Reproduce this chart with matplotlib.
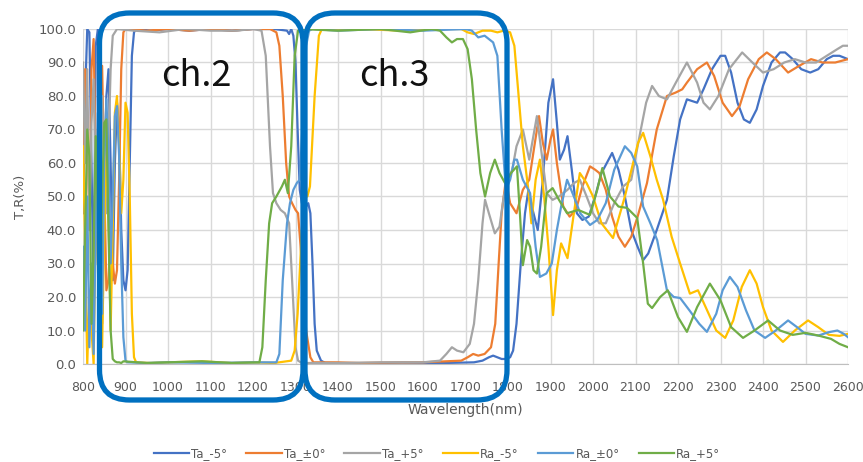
import matplotlib
matplotlib.use('Agg')
import matplotlib.pyplot as plt
from matplotlib.patches import FancyBboxPatch

# ---- data (wavelength nm, value %) ----
ta_m5_nm = [800, 805, 810, 815, 820, 825, 830, 835, 840, 845, 850, 855, 860, 865, 870, 875, 880, 885, 890, 895, 900, 905, 910, 915, 920, 925,
            960, 1000, 1050, 1100, 1150, 1200, 1250, 1280, 1285, 1290, 1295, 1300, 1305, 1310, 1315, 1320, 1325, 1330, 1335, 1340, 1345, 1350, 1360, 1370,
            1450, 1550, 1650, 1720, 1740, 1755, 1765, 1775, 1785, 1795, 1805, 1812, 1820, 1830, 1840, 1848, 1858, 1870, 1882, 1895,
            1906, 1915, 1922, 1932, 1940, 1950, 1962, 1975, 1990, 2005, 2020, 2045, 2060, 2075, 2090, 2105, 2118, 2130, 2150, 2174,
            2190, 2205, 2221, 2245, 2260, 2280, 2300, 2311, 2325, 2340, 2355, 2369, 2385, 2400, 2420, 2440, 2452, 2470, 2490, 2511,
            2530, 2550, 2565, 2580, 2600]
ta_m5 = [45, 80, 100, 99, 60, 20, 95, 100, 55, 12, 50, 80, 88, 60, 25, 60, 78, 70, 40, 25, 22, 28, 60, 92, 99, 100,
         99.5, 100, 99.5, 100, 99.5, 100, 100, 99.5, 98.5, 100, 98, 90, 70, 52, 48, 50, 47, 48, 45, 30, 12, 4, 1, 0.3,
         0.2, 0.4, 0.3, 0.5, 1, 2, 2.5, 2, 1.5, 1.5, 2, 4, 12, 30, 45, 52, 46, 40, 55, 78,
         85, 72, 61, 64, 68, 58, 45, 43, 44, 50, 57, 63, 58, 50, 40, 35, 31, 33, 40, 49,
         62, 73, 79, 78, 82, 88, 92, 92, 87, 78, 73, 72, 76, 83, 90, 93, 93, 91, 88, 87,
         88, 91, 92, 92, 91]

ta_0_nm = [800, 805, 810, 815, 820, 825, 830, 835, 840, 845, 850, 855, 860, 865, 870, 875, 880, 885, 890, 895, 900,
           950, 1000, 1050, 1100, 1150, 1200, 1240, 1255, 1262, 1270, 1278, 1285, 1292, 1300, 1306, 1315, 1325, 1335, 1342,
           1400, 1450, 1500, 1600, 1690, 1705, 1718, 1730, 1745, 1760, 1770, 1778, 1785, 1795, 1805, 1820, 1835, 1850, 1862, 1873,
           1882, 1891, 1900, 1906, 1915, 1930, 1945, 1960, 1975, 1993, 2005, 2015, 2030, 2045, 2060, 2075, 2090, 2105, 2127, 2150,
           2174, 2194, 2210, 2221, 2245, 2268, 2285, 2305, 2327, 2345, 2365, 2390, 2409, 2430, 2459, 2485, 2513, 2540, 2570, 2600]
ta_0 = [50, 88, 75, 40, 88, 97, 60, 30, 70, 89, 55, 22, 25, 40, 30, 24, 28, 55, 88, 99, 100,
        99.5, 100, 99.5, 100, 99.5, 100, 100, 99, 95, 80, 60, 50, 48, 46, 45, 30, 10, 2, 0.5,
        0.5, 0.3, 0.4, 0.5, 1, 2, 3, 2.5, 3, 5, 12, 30, 45, 55, 48, 45, 52, 55, 65, 74,
        66, 61, 67, 70, 60, 47, 44, 46, 53, 59, 58, 57, 52, 44, 38, 35, 38, 44, 54, 70,
        80, 81, 82, 84, 88, 90, 86, 78, 74, 77, 85, 91, 93, 91, 87, 89, 91, 90, 90, 91]

ta_p5_nm = [800, 805, 810, 815, 820, 825, 830, 835, 840, 845, 850, 855, 860, 865, 870, 875, 880,
            920, 980, 1040, 1100, 1160, 1200, 1220, 1230, 1240, 1247, 1255, 1265, 1275, 1285, 1292, 1300, 1306, 1315,
            1400, 1500, 1600, 1640, 1655, 1668, 1680, 1695, 1710, 1720, 1730, 1740, 1746, 1755, 1769, 1780, 1790, 1800, 1810, 1820,
            1835, 1850, 1868, 1880, 1891, 1905, 1920, 1940, 1955, 1969, 1985, 2000, 2015, 2030, 2050, 2071, 2090, 2111, 2125, 2139,
            2155, 2174, 2195, 2221, 2245, 2260, 2275, 2295, 2320, 2351, 2375, 2400, 2425, 2450, 2475, 2500, 2525, 2550, 2575, 2588, 2600]
ta_p5 = [90, 60, 88, 40, 72, 85, 55, 30, 65, 80, 55, 45, 65, 88, 98, 99, 100,
         99.5, 99, 100, 99.5, 99.5, 100, 99.5, 92, 65, 51, 48, 46, 45, 42, 25, 5, 1, 0.3,
         0.3, 0.5, 0.5, 1, 3, 5, 4, 3.5, 6, 12, 25, 42, 49, 45, 39, 41, 50, 55, 58, 65,
         70, 61, 74, 62, 51, 49, 50, 52, 54, 55, 50, 45, 42, 42, 48, 53, 55, 69, 78, 83,
         80, 79, 84, 90, 84, 78, 76, 80, 88, 93, 90, 87, 88, 90, 91, 90, 90, 92, 94, 95, 95]

ra_m5_nm = [800, 805, 810, 815, 820, 825, 830, 835, 840, 845, 850, 855, 860, 865, 870, 875, 880, 885, 890, 895, 900, 905, 910, 915, 920, 925,
            960, 1000, 1080, 1150, 1200, 1250, 1290, 1298, 1305, 1315, 1322, 1328, 1334, 1345, 1355, 1362,
            1450, 1550, 1650, 1690, 1705, 1720, 1740, 1760, 1775, 1790, 1805, 1815, 1825, 1835, 1847, 1855, 1865, 1875, 1885, 1895,
            1906, 1915, 1925, 1940, 1955, 1969, 1985, 2000, 2020, 2047, 2075, 2106, 2118, 2135, 2150, 2165, 2185, 2205, 2228, 2247,
            2265, 2290, 2311, 2330, 2350, 2369, 2385, 2400, 2420, 2447, 2475, 2506, 2530, 2555, 2580, 2600]
ra_m5 = [65, 35, 0, 20, 10, 0, 45, 70, 25, 5, 40, 65, 45, 10, 40, 75, 80, 65, 45, 55, 78, 75, 50, 15, 2, 0.5,
         0.3, 0.5, 0.8, 0.3, 0.5, 0.3, 1, 4, 15, 40, 53, 50, 53, 80, 98, 100,
         100, 99.5, 100, 100, 99, 98.5, 99.5, 99.5, 99, 99.5, 99, 95, 80, 65, 53, 42, 55, 61, 50, 35,
         14.6, 28, 36, 31.6, 45, 57, 54, 50, 42, 37.6, 50, 66, 69, 62, 55, 49, 38, 30, 21, 22,
         17, 10, 7.8, 13, 23, 28, 24, 17, 10, 6.6, 10, 13, 11, 8.7, 8.4, 9]

ra_0_nm = [800, 805, 810, 815, 820, 825, 830, 835, 840, 845, 850, 855, 860, 865, 870, 875, 880, 885, 890, 895, 900, 905,
           950, 1000, 1100, 1200, 1255, 1262, 1270, 1280, 1287, 1295, 1303, 1310, 1318, 1325, 1332, 1340,
           1400, 1500, 1600, 1700, 1715, 1730, 1745, 1755, 1765, 1775, 1785, 1795, 1805, 1815, 1821, 1835, 1852, 1865, 1875, 1890,
           1903, 1915, 1925, 1939, 1955, 1970, 1993, 2010, 2030, 2050, 2075, 2090, 2104, 2118, 2135, 2151, 2174, 2190, 2205, 2227,
           2250, 2268, 2290, 2305, 2322, 2340, 2360, 2380, 2405, 2430, 2459, 2480, 2500, 2530, 2555, 2575, 2590, 2600]
ra_0 = [35, 10, 50, 5, 30, 3, 40, 75, 40, 15, 60, 79, 62, 30, 50, 74, 77, 62, 30, 8, 1, 0.5,
        0.3, 0.5, 0.3, 0.5, 0.5, 3, 25, 42, 48, 52, 54, 55, 75, 95, 99.5, 100,
        99.5, 100, 99.5, 100, 99.5, 97.5, 98, 97, 96, 92, 70, 52, 55, 61, 61, 55, 51, 35, 26, 27,
        30, 40, 47, 55, 50, 45, 41.5, 43, 48, 58, 65, 63, 59, 47, 42, 37, 22, 20, 19.7, 16,
        12, 9.6, 15, 22, 26, 23, 16, 10, 7.8, 10, 13, 11, 9, 8.5, 9.5, 10, 9, 8]

ra_p5_nm = [800, 805, 810, 815, 820, 825, 830, 835, 840, 845, 850, 855, 860, 865, 870, 875, 880, 885, 890, 895,
            950, 1000, 1080, 1150, 1215, 1222, 1230, 1238, 1245, 1255, 1268, 1275, 1282, 1290, 1298, 1306, 1315,
            1400, 1500, 1570, 1620, 1640, 1655, 1668, 1680, 1694, 1705, 1715, 1725, 1735, 1746, 1758, 1769, 1780, 1793, 1807, 1821,
            1828, 1835, 1845, 1852, 1860, 1868, 1878, 1891, 1905, 1920, 1939, 1965, 1993, 2010, 2022, 2040, 2060, 2080, 2104, 2118,
            2129, 2139, 2158, 2176, 2200, 2221, 2245, 2275, 2300, 2325, 2353, 2380, 2412, 2440, 2470, 2500, 2530, 2560, 2580, 2600]
ra_p5 = [10, 40, 70, 62, 12, 35, 68, 45, 15, 50, 72, 73, 40, 10, 1.5, 0.8, 0.5, 0.5, 0.3, 0.8,
         0.3, 0.5, 0.8, 0.3, 0.5, 5, 25, 42, 48, 50, 53, 55, 51, 65, 92, 99.5, 100,
         99.5, 100, 99, 100, 99.5, 97.5, 96, 97, 97, 94, 85, 70, 57, 50, 57, 61, 57, 54, 57, 59,
         45, 29.5, 37, 35, 28, 27, 35, 51, 52.5, 49, 45, 46, 44.5, 52, 58.5, 50, 47, 46.6, 43.6, 30,
         18, 16.7, 20, 22, 14, 9.6, 17, 24, 19, 11, 7.8, 10, 13, 10, 8.7, 9.3, 8.5, 7.5, 6, 5]

labels = ['Ta_-5°', 'Ta_±0°', 'Ta_+5°', 'Ra_-5°', 'Ra_±0°', 'Ra_+5°']
colors = ['#4472C4', '#ED7D31', '#A5A5A5', '#FFC000', '#5B9BD5', '#70AD47']
series = [(ta_m5_nm, ta_m5), (ta_0_nm, ta_0), (ta_p5_nm, ta_p5),
          (ra_m5_nm, ra_m5), (ra_0_nm, ra_0), (ra_p5_nm, ra_p5)]

W, H = 863, 462
fig = plt.figure(figsize=(W / 100, H / 100), dpi=100)
ax = fig.add_axes([83 / W, 1 - 364 / H, 765 / W, 335 / H])

handles = []
for (x, y), lab, c in zip(series, labels, colors):
    h, = ax.plot(x, y, color=c, lw=1.6, label=lab, solid_joinstyle='round')
    handles.append(h)

ax.set_xlim(800, 2600)
ax.set_ylim(0, 100)
ax.set_xticks(range(800, 2601, 100))
ax.set_yticks(range(0, 101, 10))
ax.set_yticklabels([f'{v:.1f}' for v in range(0, 101, 10)])
ax.grid(True, color='#D9D9D9', lw=1)
ax.set_axisbelow(True)
for s in ['top', 'right', 'left']:
    ax.spines[s].set_visible(False)
ax.spines['bottom'].set_color('#BFBFBF')
ax.tick_params(length=0, labelcolor='#595959')
ax.tick_params(axis='x', pad=12, labelsize=9)
ax.tick_params(axis='y', pad=5, labelsize=9.5)
ax.set_xlabel('Wavelength(nm)', fontsize=10, color='#595959', labelpad=7)
ax.set_ylabel('T,R(%)', fontsize=9.5, color='#595959', labelpad=8)

fig.legend(handles=handles, ncol=6, loc='center', bbox_to_anchor=(437 / W, 1 - 454 / H),
           frameon=False, handlelength=3.0, handletextpad=0.2, columnspacing=1.6,
           labelcolor='#595959',
           prop={'family': ['Liberation Sans Narrow', 'DejaVu Sans'], 'size': 8.5})

# overlay for the channel boxes, in pixel coordinates
ov = fig.add_axes([0, 0, 1, 1])
ov.set_xlim(0, W)
ov.set_ylim(H, 0)
ov.axis('off')
for x0, x1, txt, tx in [(99.5, 303, 'ch.2', 196), (305, 507, 'ch.3', 394)]:
    ov.add_patch(FancyBboxPatch((x0, 13), x1 - x0, 387, boxstyle='round,pad=0,rounding_size=30',
                                fill=False, ec='#0070C0', lw=3.8))
    ov.text(tx, 86, txt, fontsize=26, family=['Noto Sans CJK JP', 'DejaVu Sans'],
            ha='center', va='baseline', color='#111111')

fig.savefig('out.png', dpi=100)
